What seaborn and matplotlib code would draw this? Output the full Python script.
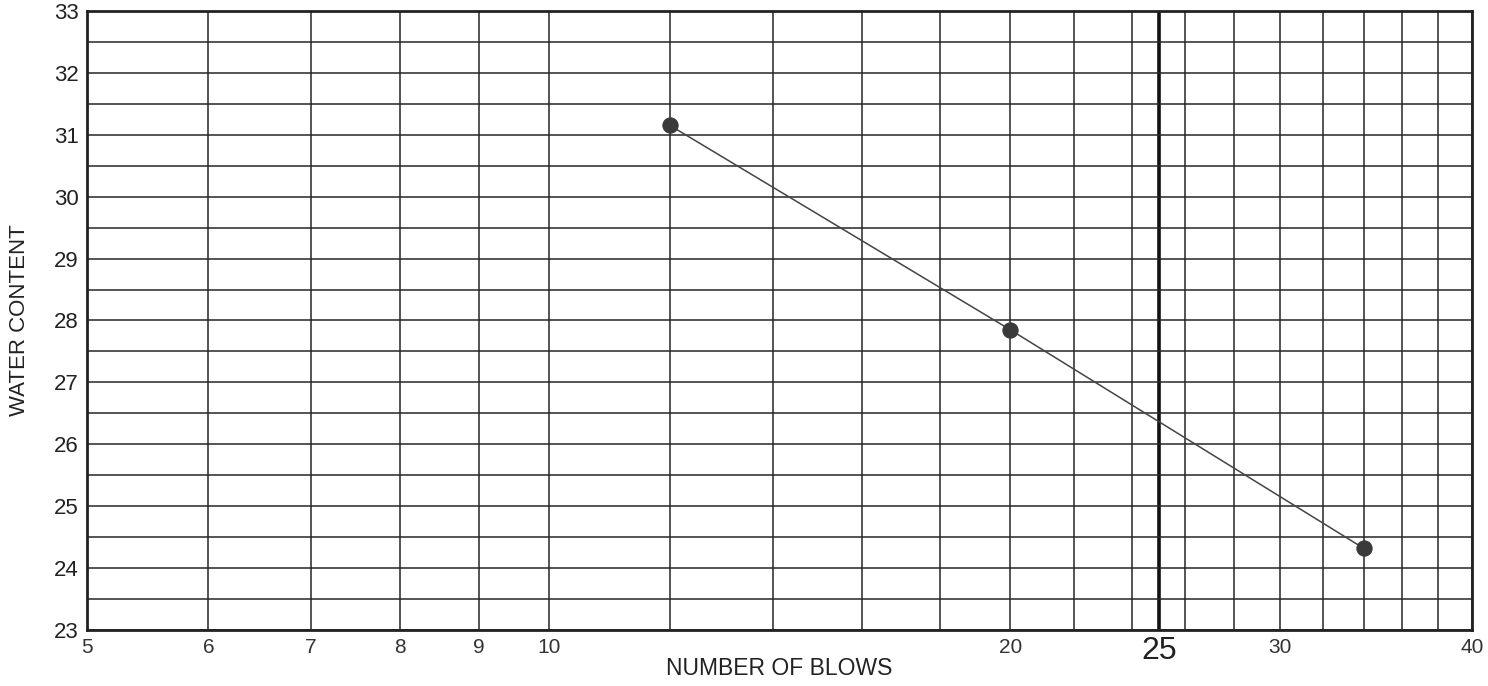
import matplotlib
matplotlib.use("Agg")
import matplotlib.pyplot as plt
import seaborn as sns
import pandas as pd
import numpy as np

# Liquid limit test: water content vs number of blows
blows = [12, 20, 34]
water_content = [31.15, 27.85, 24.32]

x_labels = [5, 6, 7, 8, 9, 10, 20, 30, 40]
x_grid = [5, 6, 7, 8, 9, 10, 12, 14, 16, 18, 20, 22, 24, 26, 28, 30, 32, 34, 36, 38, 40]
y_ticks = list(range(23, 34))

sns.set_style("white")
plt.rcParams["font.family"] = ["Liberation Sans", "DejaVu Sans"]

df = pd.DataFrame({"blows": blows, "water": water_content})

fig = plt.figure(figsize=(14.88, 6.86), dpi=100)
ax = fig.add_axes([0.0585, 0.0816, 0.9307, 0.9024])

ax.set_xscale("log")
ax.set_xlim(5, 40)
ax.set_ylim(23, 33)

# grid
for xv in x_grid:
    ax.axvline(xv, color="#262626", lw=1.1, zorder=1)
ax.axvline(25, color="#111111", lw=2.6, zorder=1)
for yv in np.arange(23, 33.01, 0.5):
    ax.axhline(yv, color="#262626", lw=1.1, zorder=1)

sns.lineplot(data=df, x="blows", y="water", ax=ax, color="#444444", lw=1.1,
             marker="o", markersize=11, markerfacecolor="#3a3a3a",
             markeredgecolor="#3a3a3a", zorder=3)

ax.set_xticks(x_labels)
ax.set_xticklabels([str(v) for v in x_labels], fontsize=15, color="#333333")
ax.xaxis.set_minor_locator(matplotlib.ticker.NullLocator())
ax.set_yticks(y_ticks)
ax.set_yticklabels([str(v) for v in y_ticks], fontsize=16, color="#222222")
ax.tick_params(axis="both", length=0)
ax.tick_params(axis="x", pad=6)
ax.tick_params(axis="y", pad=6)

# emphasised 25-blow reference
ax.text(25, -0.009, "25", transform=ax.get_xaxis_transform(), ha="center", va="top",
        fontsize=23, color="#222222")

ax.set_xlabel("NUMBER OF BLOWS", fontsize=16.5, color="#222222", labelpad=0)
ax.set_ylabel("WATER CONTENT", fontsize=16, color="#222222", labelpad=17)

for s in ax.spines.values():
    s.set_visible(True)
    s.set_color("#222222")
    s.set_linewidth(2.0)

fig.savefig("out.png", dpi=100)
